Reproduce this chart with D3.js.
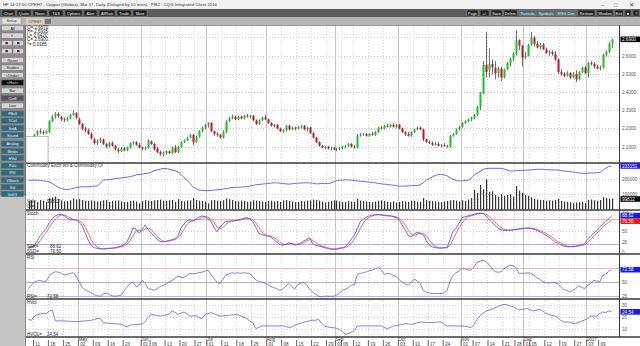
<!DOCTYPE html>
<html><head><meta charset="utf-8">
<script src="https://cdn.jsdelivr.net/npm/d3@7"></script>
<style>
html,body{margin:0;padding:0;background:#fff;overflow:hidden}
svg{display:block}
text{font-family:"Liberation Sans",Arial,sans-serif}
.mono{font-family:"DejaVu Sans Mono",monospace}
</style></head><body>
<svg id="c" width="640" height="346"></svg>
<script>
// ---------------- DATA ----------------
const months=["2016-04","2016-05","2016-06","2016-07","2016-08","2016-09","2016-10","2016-11","2016-12","2017-01"];
const monthDays=[
 [7,8,11,12,13,14,15,18,19,20,21,22,25,26,27,28,29],
 [2,3,4,5,6,9,10,11,12,13,16,17,18,19,20,23,24,25,26,27,31],
 [1,2,3,6,7,8,9,10,13,14,15,16,17,20,21,22,23,24,27,28,29,30],
 [1,5,6,7,8,11,12,13,14,15,18,19,20,21,22,25,26,27,28,29],
 [1,2,3,4,5,8,9,10,11,12,15,16,17,18,19,22,23,24,25,26,29,30,31],
 [1,2,6,7,8,9,12,13,14,15,16,19,20,21,22,23,26,27,28,29,30],
 [3,4,5,6,7,10,11,12,13,14,17,18,19,20,21,24,25,26,27,28,31],
 [1,2,3,4,7,8,9,10,11,14,15,16,17,18,21,22,23,25,28,29,30],
 [1,2,5,6,7,8,9,12,13,14,15,16,19,20,21,22,23,27,28,29,30],
 [3,4,5,6,9,10,11,12,13]];

const opens=[2.13,2.12,
2.145,2.165,2.185,2.18,2.175,2.18,2.24,2.265,2.28,2.265,
2.25,2.245,2.255,2.275,2.285,2.25,2.225,2.20,2.19,2.17,
2.14,2.12,2.13,2.14,2.115,2.10,2.12,2.105,2.085,2.075,
2.09,2.08,2.095,2.12,2.125,2.11,2.095,2.09,2.095,2.13,
2.115,2.09,2.07,2.06,2.065,2.075,2.065,2.095,2.07,2.10,
2.125,2.135,2.15,2.165,2.125,2.155,2.185,2.205,2.22,2.23,
2.185,2.17,2.165,2.15,2.18,2.24,2.255,2.265,2.25,2.265,
2.255,2.27,2.265,2.27,2.245,2.225,2.245,2.26,2.25,2.23,
2.215,2.22,2.20,2.185,2.19,2.215,2.195,2.205,2.20,2.21,
2.215,2.195,2.205,2.175,2.15,2.125,2.105,2.095,2.10,2.09,
2.095,2.085,2.09,2.095,2.10,2.105,2.115,2.10,2.095,2.16,
2.165,2.17,2.16,2.17,2.165,2.18,2.205,2.20,2.215,2.21,
2.22,2.21,2.22,2.20,2.18,2.17,2.16,2.18,2.195,2.205,
2.195,2.14,2.125,2.12,2.11,2.115,2.105,2.11,2.105,2.10,
2.16,2.17,2.195,2.21,2.23,2.24,2.25,2.26,2.275,2.32,
2.395,2.55,2.52,2.555,2.535,2.505,2.53,2.48,2.525,2.56,
2.585,2.61,2.685,2.655,2.59,2.60,2.66,2.70,2.665,2.645,
2.66,2.635,2.615,2.62,2.61,2.58,2.51,2.50,2.49,2.505,
2.48,2.50,2.47,2.51,2.535,2.505,2.56,2.555,2.54,2.53,
2.535,2.605,2.62,2.667];
const highs=[2.14,2.15,
2.17,2.19,2.20,2.19,2.19,2.245,2.275,2.29,2.29,2.27,
2.26,2.265,2.28,2.30,2.29,2.26,2.23,2.21,2.20,2.18,
2.15,2.14,2.15,2.145,2.12,2.125,2.13,2.11,2.095,2.10,
2.10,2.10,2.125,2.13,2.13,2.12,2.10,2.10,2.14,2.135,
2.12,2.10,2.08,2.075,2.08,2.08,2.10,2.11,2.105,2.13,
2.14,2.155,2.17,2.17,2.16,2.19,2.21,2.225,2.235,2.235,
2.19,2.18,2.17,2.19,2.245,2.265,2.275,2.27,2.27,2.27,
2.275,2.28,2.275,2.275,2.25,2.25,2.265,2.275,2.255,2.235,
2.225,2.225,2.205,2.195,2.22,2.22,2.21,2.21,2.215,2.22,
2.22,2.21,2.21,2.18,2.155,2.13,2.11,2.105,2.105,2.10,
2.10,2.095,2.10,2.105,2.11,2.12,2.12,2.11,2.17,2.175,
2.175,2.175,2.175,2.18,2.185,2.21,2.215,2.22,2.225,2.225,
2.23,2.225,2.225,2.205,2.185,2.18,2.185,2.20,2.21,2.21,
2.20,2.145,2.135,2.13,2.125,2.125,2.115,2.12,2.11,2.165,
2.175,2.20,2.215,2.235,2.245,2.255,2.265,2.28,2.325,2.40,
2.57,2.73,2.64,2.58,2.57,2.54,2.54,2.53,2.565,2.59,
2.62,2.74,2.69,2.66,2.62,2.665,2.73,2.71,2.68,2.67,
2.67,2.645,2.63,2.63,2.625,2.585,2.525,2.51,2.515,2.51,
2.51,2.52,2.515,2.54,2.545,2.565,2.57,2.565,2.55,2.545,
2.61,2.63,2.675,2.6935];
const lows=[2.11,2.115,
2.14,2.16,2.17,2.165,2.17,2.175,2.235,2.255,2.26,2.24,
2.235,2.24,2.25,2.27,2.25,2.22,2.19,2.18,2.165,2.14,
2.11,2.11,2.12,2.11,2.09,2.095,2.10,2.08,2.065,2.07,
2.075,2.075,2.09,2.11,2.105,2.09,2.08,2.08,2.09,2.11,
2.08,2.065,2.05,2.045,2.055,2.06,2.06,2.065,2.065,2.095,
2.12,2.13,2.145,2.11,2.12,2.15,2.18,2.195,2.205,2.18,
2.16,2.155,2.145,2.145,2.175,2.235,2.25,2.245,2.245,2.25,
2.25,2.26,2.255,2.24,2.22,2.22,2.24,2.245,2.225,2.21,
2.205,2.195,2.18,2.175,2.185,2.19,2.19,2.19,2.195,2.20,
2.19,2.185,2.17,2.145,2.12,2.10,2.09,2.085,2.085,2.08,
2.08,2.075,2.08,2.085,2.09,2.10,2.095,2.09,2.09,2.155,
2.16,2.155,2.155,2.16,2.16,2.175,2.195,2.195,2.205,2.205,
2.205,2.20,2.195,2.175,2.16,2.155,2.155,2.175,2.19,2.19,
2.13,2.12,2.115,2.105,2.105,2.10,2.095,2.10,2.095,2.095,
2.155,2.165,2.19,2.205,2.225,2.235,2.24,2.25,2.27,2.30,
2.39,2.48,2.48,2.50,2.47,2.48,2.46,2.475,2.52,2.54,
2.57,2.60,2.63,2.54,2.58,2.595,2.655,2.65,2.64,2.635,
2.63,2.61,2.60,2.60,2.57,2.50,2.49,2.48,2.485,2.47,
2.475,2.455,2.465,2.505,2.50,2.48,2.545,2.53,2.525,2.52,
2.53,2.595,2.615,2.642];
const closes=[2.12,2.145,
2.165,2.185,2.18,2.175,2.185,2.24,2.265,2.28,2.27,2.25,
2.245,2.255,2.275,2.285,2.26,2.225,2.20,2.19,2.17,2.145,
2.12,2.13,2.14,2.115,2.10,2.12,2.105,2.085,2.075,2.09,
2.08,2.095,2.12,2.125,2.11,2.095,2.09,2.095,2.135,2.115,
2.085,2.07,2.06,2.065,2.075,2.065,2.095,2.07,2.10,2.125,
2.135,2.15,2.165,2.125,2.155,2.185,2.205,2.22,2.23,2.185,
2.17,2.165,2.15,2.18,2.24,2.255,2.265,2.25,2.265,2.255,
2.27,2.265,2.27,2.245,2.225,2.245,2.26,2.25,2.23,2.215,
2.22,2.20,2.185,2.19,2.215,2.195,2.205,2.20,2.21,2.215,
2.195,2.205,2.175,2.15,2.125,2.105,2.095,2.10,2.09,2.095,
2.085,2.09,2.095,2.10,2.105,2.115,2.10,2.095,2.16,2.165,
2.17,2.16,2.17,2.165,2.18,2.205,2.20,2.215,2.21,2.22,
2.21,2.22,2.20,2.18,2.17,2.16,2.18,2.195,2.205,2.195,
2.14,2.125,2.12,2.11,2.115,2.105,2.11,2.105,2.10,2.16,
2.17,2.195,2.21,2.23,2.24,2.25,2.26,2.275,2.32,2.395,
2.55,2.51,2.555,2.535,2.505,2.53,2.48,2.525,2.56,2.585,
2.61,2.685,2.655,2.59,2.60,2.66,2.70,2.665,2.645,2.66,
2.635,2.615,2.62,2.61,2.58,2.51,2.50,2.49,2.505,2.48,
2.50,2.47,2.51,2.535,2.505,2.56,2.555,2.54,2.53,2.535,
2.605,2.62,2.667,2.69];
// Commodity exchange volume and open interest, thousands of contracts
const volumeK=[55,60,
55,48,62,58,50,75,80,85,70,60,
52,55,60,72,65,68,62,58,55,60,
57,52,55,60,62,50,55,58,60,52,
48,50,55,58,52,40,55,62,58,55,
60,62,65,58,55,60,62,50,68,55,
52,58,60,75,62,58,55,52,40,60,
62,58,55,60,72,68,62,55,52,58,
55,50,52,60,58,55,52,50,55,58,
52,55,50,60,62,55,52,48,50,55,
52,58,60,65,62,58,50,45,50,55,
60,58,52,48,50,55,52,50,70,58,
55,52,50,48,52,58,60,55,50,48,
52,45,48,55,52,50,58,55,52,50,
75,62,58,55,52,50,48,52,55,60,
62,58,52,60,55,65,75,129,110,162,
133,200,117,120,95,84,100,90,95,100,
85,155,125,110,95,90,80,70,65,62,
62,58,60,58,62,70,55,52,50,48,
40,45,48,50,42,62,65,60,58,62,
80,75,70,72];
const openInterestK=[190,190,
190,190,189,188,187,185,180,174,168,165,
162,162,163,165,168,169,170,170,170,171,
172,172,181,190,191,192,193,195,196,197,
198,199,201,203,206,207,208,210,211,214,
219,221,223,226,225,224,221,219,215,208,
198,190,180,170,165,160,159,159,158,159,
160,161,162,163,164,166,168,168,169,169,
170,170,172,174,176,177,178,179,180,181,
182,182,181,180,179,178,179,180,181,181,
182,182,182,181,179,179,180,180,180,181,
185,188,190,190,191,191,190,189,188,187,
186,185,184,183,182,180,179,178,177,176,
175,174,172,172,172,173,173,174,174,176,
182,190,195,200,204,207,208,206,203,198,
193,189,188,188,189,190,196,205,211,216,
223,225,226,226,226,226,226,224,221,218,
218,219,219,220,220,221,221,222,223,223,
223,222,222,221,221,221,219,218,217,216,
215,214,212,211,211,211,212,212,213,213,
220,226,231,233.151];
const stochK=[8,12,
16,28,40,50,58,72,82,88,91,92,
88,82,78,78,78,72,62,45,28,15,
10,8,7,7,8,8,9,10,12,14,
17,25,40,58,55,46,55,65,55,46,
38,30,25,24,26,27,30,32,40,58,
68,76,78,75,80,85,88,86,80,75,
60,49,60,68,74,75,76,76,78,80,
82,84,80,74,60,46,42,40,38,36,
30,24,18,16,18,22,20,16,18,21,
26,30,34,20,16,14,12,10,8,6,
6,7,9,10,12,20,32,41,58,74,
80,85,88,90,91,91,90,89,88,88,
86,83,78,65,53,40,36,44,48,45,
42,28,16,12,10,9,9,10,10,30,
50,58,70,83,86,88,90,92,94,95,
94,88,80,72,65,58,54,52,53,53,
54,55,56,57,58,58,57,55,53,49,
45,41,36,30,24,21,17,14,12,12,
13,14,15,17,20,31,38,46,52,60,
68,74,80,88.62];
const stochD=[12,12,
14,18,28,39,49,60,71,81,87,90,
90,87,83,79,78,76,71,60,45,29,
18,11,8,7,7,8,8,9,10,12,
14,19,27,41,51,53,52,55,58,55,
46,38,31,26,25,26,28,30,34,43,
55,67,74,76,78,80,84,86,85,80,
72,61,56,59,67,72,75,76,77,78,
80,82,82,79,71,60,49,43,40,38,
35,30,24,19,17,19,20,19,18,18,
22,26,30,28,23,17,14,12,10,8,
7,6,7,9,10,14,21,31,44,58,
71,80,84,88,90,91,91,90,89,88,
87,86,82,75,65,53,43,40,43,46,
45,38,29,19,13,10,9,9,10,16,
30,46,59,70,80,86,88,90,92,94,
94,92,87,80,72,65,59,55,53,53,
53,54,55,56,57,58,58,57,55,52,
49,45,41,36,30,25,21,17,14,13,
12,13,14,15,17,23,30,38,45,53,
60,67,72,76.5];
const rsi=[38,45,
50,52,53,51,52,62,66,69,68,66,
63,64,66,67,60,50,40,36,33,30,
27,25,24,28,30,27,25,24,25,26,
34,41,48,50,41,44,53,48,38,37,
35,38,42,44,46,50,53,57,61,59,
58,62,66,65,66,67,68,70,72,64,
57,50,47,55,63,65,67,66,67,66,
67,66,66,60,54,51,50,48,45,42,
40,38,35,37,42,48,42,37,45,48,
49,45,37,32,28,24,23,24,24,24,
24,26,30,35,37,40,44,46,64,66,
67,69,71,72,74,77,72,64,66,65,
62,60,54,50,46,44,50,56,52,47,
35,32,30,29,29,29,29,30,35,52,
62,67,70,75,74,72,72,78,86,88,
90,87,82,75,69,68,69,74,78,81,
80,76,66,66,66,67,66,62,58,55,
51,49,48,49,49,47,42,36,35,32,
35,38,43,40,38,44,47,53,52,50,
62,64,70,72.58];
const hvol=[18.3,17.5,
21,22,23,23.3,23.3,25.3,25.8,17,17,17,
17,16.8,16.6,16.5,16.4,16.5,16.8,17,17.2,17.5,
18,19,19,15.6,15.2,15,14.8,14.6,14.4,14.3,
13,12,13.6,13.8,14,14.2,14.4,16.4,20,22.5,
22,21.5,21,21.5,22,22.5,25.3,24,22.5,23.5,
24.4,23,21,21.2,21.4,20,18.9,22.5,23,23.9,
23,22,21,21.2,21.5,21.7,22,22.2,22.5,21,
20,18.9,17,15.6,10.6,11.5,12.8,12.8,12.8,12.8,
12.8,12.8,12.8,12.8,12.5,11.4,12,13.5,14.2,15,
16,16.5,17,17.5,17.5,18.3,15,12.8,12,11.4,
11.4,10.8,10,8,5.8,6.5,7.2,9,12.8,12.8,
12.8,12.8,12.8,12.8,12.8,12.8,12.8,11.5,10.6,11.5,
12.8,12.8,13.5,14,14.7,14.5,14.2,14.5,15.5,16.1,
16,15.8,15.6,15.6,16,16.1,16.1,14,12.8,12.8,
12.8,12.8,12.8,12.8,12.5,12,11.4,14,18.3,21.5,
23.5,25.3,26,26.7,28,29,30,30.8,30.5,29.5,
28.9,27.5,26.1,26.5,27,27.2,26,25.3,26,26.7,
25,23.5,22.5,21.5,21.1,19.7,17.5,16,16,16,
15,14.7,16,16.9,17.8,19,21,21,21,23,
24.4,23.9,25.3,24.54];

const weekTicks=["2016-04-11","2016-04-18","2016-04-25","2016-05-02","2016-05-09","2016-05-16","2016-05-23","2016-06-01","2016-06-06","2016-06-13","2016-06-20","2016-06-27","2016-07-01","2016-07-11","2016-07-18","2016-07-25","2016-08-01","2016-08-08","2016-08-15","2016-08-22","2016-08-29","2016-09-01","2016-09-06","2016-09-12","2016-09-19","2016-09-26","2016-10-03","2016-10-10","2016-10-17","2016-10-24","2016-11-01","2016-11-07","2016-11-14","2016-11-21","2016-11-28","2016-12-01","2016-12-05","2016-12-12","2016-12-19","2016-12-27","2017-01-03","2017-01-09"];
const monthTickDates=["2016-05-02","2016-06-01","2016-07-01","2016-08-01","2016-09-01","2016-10-03","2016-11-01","2016-12-01","2017-01-03"];
const monthTickLabels=["May","Jun","Jul","Aug","Sep","Oct","Nov","Dec","2017"];
const priceTicks=[2.1,2.2,2.3,2.4,2.5,2.6];
const priceGrid=[2.1,2.2,2.3,2.4,2.5,2.6,2.7];
const volTicks=[100,200];
const stochTicks=[0,25,50,100];
const rsiTicks=[25,50];
const hvolTicks=[10,20,30];
const infoLines=["O= 2.6670","H= 2.6935","L= 2.6420","C= 2.6900","^= 0.0185"];
const barInfo=["13 Jan 17","O= 2.6670","H= 2.6935","L= 2.6420","C= 2.6900"];

// ---------------- BUILD ----------------
const dates=months.flatMap((m,k)=>monthDays[k].map(d=>m+"-"+String(d).padStart(2,"0")));
const svg=d3.select("#c");
const X0=26, X1=619;
const P={price:[25,163],vol:[163,210],stoch:[210,254],rsi:[254,299],hvol:[299,337]};

const x=d3.scalePoint().domain(dates).range([28.5,611.6]);
const yP=d3.scaleLinear().domain([2.0,2.8]).range([164.9,19.3]);
const yV=d3.scaleLinear().domain([0,200]).range([209.3,179.3]);
const yO=d3.scaleLinear().domain([140,250]).range([196.7,160.4]);
const yS=d3.scaleLinear().domain([0,100]).range([251.7,211]);
const yR=d3.scaleLinear().domain([0,100]).range([309.4,254.7]);
const yH=d3.scaleLinear().domain([0,30]).range([341.3,305.3]);

svg.append("rect").attr("width",640).attr("height",346).attr("fill","#fff");

const defs=svg.append("defs");
Object.entries(P).forEach(([k,[a,b]])=>{
  defs.append("clipPath").attr("id","cl-"+k).append("rect").attr("x",X0).attr("y",a).attr("width",X1-X0).attr("height",b-a);
});

// ---------- grids ----------
const grid=svg.append("g");
grid.selectAll("line.wk").data(weekTicks).join("line")
  .attr("x1",d=>Math.round(x(d)-1.5)+0.5).attr("x2",d=>Math.round(x(d)-1.5)+0.5)
  .attr("y1",25).attr("y2",337).attr("stroke","#d4d4d4").attr("stroke-dasharray","1,2");
grid.selectAll("line.mo").data(monthTickDates).join("line")
  .attr("x1",d=>Math.round(x(d)-1.5)+0.5).attr("x2",d=>Math.round(x(d)-1.5)+0.5)
  .attr("y1",25).attr("y2",346).attr("stroke","#c6c6c6");
function hgrid(scale,vals,col,dash){
  grid.append("g").selectAll("line").data(vals).join("line")
   .attr("x1",X0).attr("x2",X1).attr("y1",d=>Math.round(scale(d))+0.5).attr("y2",d=>Math.round(scale(d))+0.5)
   .attr("stroke",col).attr("stroke-dasharray",dash);
}
hgrid(yP,priceGrid,"#c8c8c8","1,2");
hgrid(yV,volTicks,"#cccccc","1,2");
hgrid(yS,[50],"#cccccc","1,2");
hgrid(yS,[80],"#f0b0b0",null);
hgrid(yS,[20],"#b0b0f0",null);
hgrid(yR,[75],"#ebb8b8",null);
hgrid(yR,[50],"#b4b4b4",null);
hgrid(yR,[25],"#b8b8ea",null);
hgrid(yH,hvolTicks,"#cccccc","1,2");

// ---------- price candles ----------
const idx=d3.range(dates.length);
const gp=svg.append("g").attr("clip-path","url(#cl-price)");
gp.selectAll("line").data(idx).join("line")
  .attr("x1",i=>Math.round(x(dates[i]))+0.5).attr("x2",i=>Math.round(x(dates[i]))+0.5)
  .attr("y1",i=>yP(highs[i])).attr("y2",i=>yP(lows[i])).attr("stroke","#4a4a4a").attr("stroke-width",0.8);
gp.selectAll("rect").data(idx).join("rect")
  .attr("x",i=>Math.round(x(dates[i]))-0.5).attr("width",2)
  .attr("y",i=>yP(Math.max(opens[i],closes[i])))
  .attr("height",i=>Math.max(0.9,Math.abs(yP(opens[i])-yP(closes[i]))))
  .attr("fill",i=>closes[i]>opens[i]?"#1fbf2a":(closes[i]<opens[i]?"#c4122f":"#444"));

// ---------- volume / OI ----------
const gv=svg.append("g").attr("clip-path","url(#cl-vol)");
gv.selectAll("rect").data(idx).join("rect")
  .attr("x",i=>Math.round(x(dates[i]))).attr("width",1.2)
  .attr("y",i=>yV(volumeK[i])).attr("height",i=>yV(0)-yV(volumeK[i])).attr("fill","#333");
gv.append("path").datum(idx).attr("fill","none").attr("stroke","#6b6be6").attr("stroke-width",1)
  .attr("d",d3.line().x(i=>x(dates[i])).y(i=>yO(openInterestK[i])));

// ---------- stoch ----------
const gs=svg.append("g").attr("clip-path","url(#cl-stoch)");
gs.append("path").datum(idx).attr("fill","none").attr("stroke","#f05050").attr("stroke-width",0.85)
  .attr("d",d3.line().x(i=>x(dates[i])).y(i=>yS(stochD[i])));
gs.append("path").datum(idx).attr("fill","none").attr("stroke","#5050f0").attr("stroke-width",0.85)
  .attr("d",d3.line().x(i=>x(dates[i])).y(i=>yS(stochK[i])));
svg.append("g").attr("clip-path","url(#cl-rsi)").append("path").datum(idx).attr("fill","none")
  .attr("stroke","#6a6ae0").attr("stroke-width",0.85)
  .attr("d",d3.line().x(i=>x(dates[i])).y(i=>yR(rsi[i])));
svg.append("g").attr("clip-path","url(#cl-hvol)").append("path").datum(idx).attr("fill","none")
  .attr("stroke","#6a6ae0").attr("stroke-width",0.85)
  .attr("d",d3.line().x(i=>x(dates[i])).y(i=>yH(hvol[i])));

// ---------- panel separators & frame ----------
const fr=svg.append("g");
[25,163,210,254,299,337].forEach(y=>{
  fr.append("line").attr("x1",X0).attr("x2",640).attr("y1",y).attr("y2",y).attr("stroke","#3a3a3a").attr("stroke-width",y===25?1:1.4);
});
fr.append("line").attr("x1",X1+0.5).attr("x2",X1+0.5).attr("y1",25).attr("y2",337).attr("stroke","#3a3a3a");
fr.append("line").attr("x1",X0-0.5).attr("x2",X0-0.5).attr("y1",25).attr("y2",346).attr("stroke","#555");

// ---------- right axes ----------
function rAxis(scale,vals,fmt){
  const g=svg.append("g").attr("transform",`translate(${X1},0)`)
    .call(d3.axisRight(scale).tickValues(vals).tickFormat(fmt).tickSize(0).tickPadding(3));
  g.select(".domain").remove();
  g.selectAll("text").attr("font-size",4.6).attr("fill","#555").attr("font-family","Liberation Sans");
}
rAxis(yP,priceTicks,d3.format(".4f"));
rAxis(yV,volTicks,d=>d3.format("d")(d*1000));
rAxis(yS,stochTicks,d3.format("d"));
rAxis(yR,rsiTicks,d3.format("d"));
rAxis(yH,hvolTicks,d3.format("d"));
function tag(y,txt,bg){
  svg.append("rect").attr("x",X1+1.5).attr("y",y-2.8).attr("width",19.5).attr("height",5.6).attr("fill",bg);
  svg.append("text").attr("x",X1+3).attr("y",y+1.7).attr("font-size",4.6).attr("fill","#fff").text(txt);
}
tag(yP(closes[closes.length-1]),"2.6900","#000");
tag(yO(openInterestK[openInterestK.length-1]),"233151","#1a1ae6");
tag(199,"99812","#000");
tag(yS(stochK[stochK.length-1]),"88.62","#1a1ae6");
tag(yS(stochD[stochD.length-1])+0.6,"76.50","#e61a1a");
tag(yR(rsi[rsi.length-1]),"72.58","#1a1ae6");
tag(yH(hvol[hvol.length-1]),"24.54","#1a1ae6");

// ---------- date axis ----------
const gx=svg.append("g").attr("transform","translate(0,340)")
  .call(d3.axisBottom(x).tickValues(weekTicks).tickFormat(d=>d.slice(8)).tickSize(6).tickPadding(0));
gx.select(".domain").remove();
gx.selectAll(".tick line").attr("transform","translate(-1.5,0)").attr("stroke","#666");
gx.selectAll(".tick text").attr("text-anchor","start").attr("x",0.3).attr("y",5.8).attr("dy",null)
  .attr("font-size",4.6).attr("fill","#333");
const gm=svg.append("g");
gm.selectAll("text").data(monthTickDates).join("text")
  .attr("x",d=>x(d)-1).attr("y",341.2).attr("font-size",4.6).attr("fill","#333")
  .text((d,i)=>monthTickLabels[i]);

// ---------- panel texts ----------
const T=svg.append("g").attr("class","mono").attr("font-size",4.5).attr("fill","#222");
infoLines.forEach((t,i)=>T.append("text").attr("x",27).attr("y",28.5+i*4.3).text(t));
svg.append("rect").attr("x",26).attr("y",136.5).attr("width",22).attr("height",26).attr("fill","#fff").attr("stroke","#888").attr("stroke-width",0.5);
barInfo.forEach((t,i)=>T.append("text").attr("x",27).attr("y",141+i*5).text(t));
T.append("text").attr("x",27).attr("y",167).text("Commodity Exch Vol & Commodity OI");
T.append("text").attr("x",27).attr("y",202.5).text("Vol=");
T.append("text").attr("x",47).attr("y",202.5).text("99812");
T.append("text").attr("x",27).attr("y",207.5).text("OI=");
T.append("text").attr("x",27).attr("y",214.5).text("Stoch");
T.append("text").attr("x",27).attr("y",248).text("SSK=");
T.append("text").attr("x",50).attr("y",248).text("88.62");
T.append("text").attr("x",27).attr("y",253).text("SSD=");
T.append("text").attr("x",50).attr("y",253).text("76.50");
T.append("text").attr("x",27).attr("y",258.5).text("RSI");
T.append("text").attr("x",27).attr("y",298).text("RSI=");
T.append("text").attr("x",47).attr("y",298).text("72.58");
T.append("text").attr("x",27).attr("y",304).text("HVol");
T.append("text").attr("x",27).attr("y",336).text("HVOL=");
T.append("text").attr("x",47).attr("y",336).text("24.54");

// ---------- window chrome ----------
const ch=svg.append("g");
ch.append("rect").attr("x",0).attr("y",0).attr("width",640).attr("height",9).attr("fill","#f2f2f2");
ch.append("text").attr("x",3).attr("y",6.3).attr("font-size",4.3).attr("fill","#333")
  .text("HF  14:27:50  CPEH7 - Copper (Globex), Mar 17, Daily (Delayed by 10 mins)  ·  PI82  ·  CQG Integrated Client 2016");
[["\u2013",601],["\u25A1",614],["\u2715",629]].forEach(([s,xx])=>ch.append("text").attr("x",xx).attr("y",6.5).attr("font-size",5.5).attr("fill","#444").text(s));
ch.append("rect").attr("x",0).attr("y",9).attr("width",640).attr("height",8).attr("fill","#5c5c5c");
const leftBtns=[["Chart",2,15],["Quote",17,31],["News",33,47],["T&S",49,63],["Options",65,82],["Alert",84,97],["AllRow",99,115],["Trade",117,131],["More",133,147]];
const rightBtns=[["Page",467,478,"#222"],["+/-",480,489,"#222"],["Save",491,502,"#222"],["Delete",504,517,"#222"],["Formula",519,536,"#4d6b70"],["Symbols",538,554,"#4d6b70"],["MSG Cntr",556,576,"#4d6b70"],["Restore",578,595,"#222"],["Window",597,613,"#222"],["Exit",615,623,"#222"],["\u25A0",625,631,"#222"],["?",633,639,"#222"]];
leftBtns.concat(rightBtns).forEach(([t,a,b,c])=>{
  ch.append("rect").attr("x",a).attr("y",10).attr("width",b-a).attr("height",6).attr("fill",c||"#222").attr("stroke","#999").attr("stroke-width",0.4);
  ch.append("text").attr("x",(a+b)/2).attr("y",14.5).attr("text-anchor","middle").attr("font-size",3.8).attr("fill","#eee").text(t);
});
ch.append("rect").attr("x",0).attr("y",17).attr("width",640).attr("height",8).attr("fill","#b5b5b5");
ch.append("rect").attr("x",2).attr("y",18).attr("width",19).attr("height",6).attr("fill","#e4e4e4").attr("stroke","#888").attr("stroke-width",0.4);
ch.append("text").attr("x",11.5).attr("y",22.4).attr("text-anchor","middle").attr("font-size",3.9).attr("fill","#333").text("Setup");
ch.append("rect").attr("x",26).attr("y",18).attr("width",18).attr("height",7).attr("fill","#d8ccb6");
ch.append("text").attr("x",35).attr("y",22.8).attr("text-anchor","middle").attr("font-size",3.9).attr("fill","#555").text("CPEH7");
ch.append("rect").attr("x",45).attr("y",19).attr("width",6).attr("height",5).attr("fill","#777");

// sidebar
ch.append("rect").attr("x",0).attr("y",25).attr("width",25.5).attr("height",171).attr("fill","#8c8c8c");
ch.append("rect").attr("x",0).attr("y",196).attr("width",25.5).attr("height",150).attr("fill","#c6c6c6");
const side=[["All",25.5,"#d4d4d4","#222"],["",33,"#d4d4d4","#222"],["Reset",57.5,"#d4d4d4","#222"],["Studies",65,"#d4d4d4","#222"],["<Undo>",72.5,"#d4d4d4","#222"],["<Hist>",80,"#111","#ddd"],["Bar",88,"#d4d4d4","#222"],["Cndl",95.5,"#555","#eee"],["Line",103,"#d4d4d4","#222"],
 ["FBoll",111,"#2b6b80","#e8f4f8"],["TCol",118,"#2b6b80","#e8f4f8"],["SetA",125.5,"#2b6b80","#e8f4f8"],["Sound",132.5,"#2b6b80","#e8f4f8"],["Analog",141,"#2b6b80","#e8f4f8"],["Mstds",148.5,"#2b6b80","#e8f4f8"],["HVol",155.5,"#2b6b80","#e8f4f8"],["Pala",163,"#2b6b80","#e8f4f8"],["RSI",170,"#2b6b80","#e8f4f8"],["VStoch",177.5,"#2b6b80","#e8f4f8"],["Vol",184.5,"#2b6b80","#e8f4f8"],["VolOI",191.5,"#2b6b80","#e8f4f8"]];
side.forEach(([t,y,bg,fg])=>{
  ch.append("rect").attr("x",1.5).attr("y",y).attr("width",22).attr("height",5.2).attr("fill",bg).attr("stroke","#666").attr("stroke-width",0.4);
  ch.append("text").attr("x",12.5).attr("y",y+4).attr("text-anchor","middle").attr("font-size",3.8).attr("fill",fg).text(t);
});
ch.append("text").attr("x",12.5).attr("y",37.2).attr("text-anchor","middle").attr("font-size",4.5).attr("fill","#8a1020").text("\u25D0");
[40.5,48.5].forEach(y=>[1.5,13].forEach(xx=>{
  ch.append("rect").attr("x",xx).attr("y",y).attr("width",10.5).attr("height",5.2).attr("fill","#d4d4d4").attr("stroke","#666").attr("stroke-width",0.4);
  ch.append("rect").attr("x",xx+4).attr("y",y+1.5).attr("width",2.5).attr("height",2.2).attr("fill","#5a2a6a");
}));
</script></body></html>
